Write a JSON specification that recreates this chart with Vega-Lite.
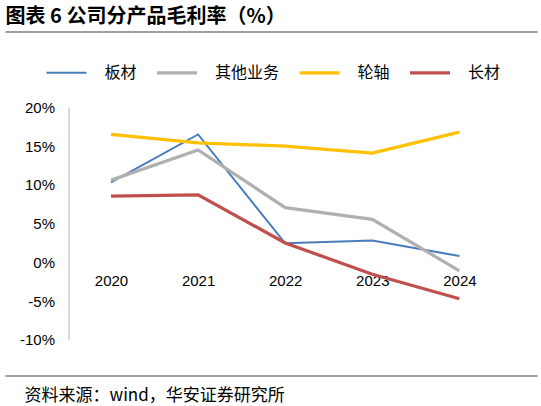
{
  "$schema": "https://vega.github.io/schema/vega-lite/v6.json",
  "description": "图表 6 公司分产品毛利率",
  "autosize": {"type": "none"},
  "padding": {"left": 5, "top": 107.3, "right": 4, "bottom": 66.2},
  "width": 532,
  "height": 232.5,
  "background": "#ffffff",
  "config": {
    "view": {"stroke": null},
    "axis": {"labelFont": "Liberation Sans", "grid": false, "ticks": false}
  },
  "data": {
    "values": [
      {"product": "板材", "year": 2020, "margin": 10.3},
      {"product": "板材", "year": 2021, "margin": 16.5},
      {"product": "板材", "year": 2022, "margin": 2.45},
      {"product": "板材", "year": 2023, "margin": 2.8},
      {"product": "板材", "year": 2024, "margin": 0.8},
      {"product": "其他业务", "year": 2020, "margin": 10.6},
      {"product": "其他业务", "year": 2021, "margin": 14.5},
      {"product": "其他业务", "year": 2022, "margin": 7.05},
      {"product": "其他业务", "year": 2023, "margin": 5.55},
      {"product": "其他业务", "year": 2024, "margin": -1.1},
      {"product": "轮轴", "year": 2020, "margin": 16.5},
      {"product": "轮轴", "year": 2021, "margin": 15.4},
      {"product": "轮轴", "year": 2022, "margin": 15.0},
      {"product": "轮轴", "year": 2023, "margin": 14.1},
      {"product": "轮轴", "year": 2024, "margin": 16.8},
      {"product": "长材", "year": 2020, "margin": 8.55},
      {"product": "长材", "year": 2021, "margin": 8.7},
      {"product": "长材", "year": 2022, "margin": 2.5},
      {"product": "长材", "year": 2023, "margin": -1.55},
      {"product": "长材", "year": 2024, "margin": -4.7}
    ]
  },
  "encoding": {
    "y": {
      "field": "margin",
      "type": "quantitative",
      "scale": {"domain": [-10, 20], "nice": false, "zero": false},
      "axis": {
        "title": null,
        "orient": "left",
        "offset": -63.5,
        "values": [-10, -5, 0, 5, 10, 15, 20],
        "labelExpr": "datum.value + '%'",
        "labelFontSize": 15,
        "labelColor": "#000000",
        "labelPadding": 14,
        "domainColor": "#b3b3b3",
        "domainWidth": 1
      }
    },
    "color": {
      "field": "product",
      "type": "nominal",
      "scale": {
        "domain": ["板材", "其他业务", "轮轴", "长材"],
        "range": ["#4a7ebb", "#b0b0b0", "#ffc000", "#c0504d"]
      },
      "legend": {
        "orient": "none",
        "legendX": 53.5,
        "legendY": -42.5,
        "direction": "horizontal",
        "title": null,
        "padding": 0,
        "symbolType": "stroke",
        "symbolSize": 1600,
        "symbolStrokeWidth": 3.25,
        "labelOffset": 30,
        "columnPadding": 12.5,
        "labelFont": "Noto Sans CJK SC",
        "labelFontSize": 16,
        "labelColor": "#000000",
        "encode": {
          "symbols": {
            "update": {"strokeWidth": {"signal": "datum.value === '板材' ? 2 : 3.25"}}
          }
        }
      }
    }
  },
  "layer": [
    {
      "data": {"values": [{}]},
      "mark": {"type": "rule", "strokeWidth": 1},
      "encoding": {
        "x": {
          "datum": 2019.5,
          "type": "quantitative",
          "axis": {
            "orient": "bottom",
            "offset": -308.3,
            "labels": false,
            "domain": true,
            "domainColor": "#7f7f7f",
            "domainWidth": 1.5,
            "title": "图表 6 公司分产品毛利率（%）",
            "titleFont": "Noto Sans CJK SC",
            "titleFontSize": 20,
            "titleFontWeight": "bold",
            "titleColor": "#000000",
            "titleAlign": "left",
            "titleBaseline": "middle",
            "titleX": 0,
            "titleY": -15
          }
        },
        "x2": {"datum": 2024.5},
        "y": {"datum": 0},
        "color": {"value": "#b3b3b3"}
      }
    },
    {
      "transform": [{"filter": "datum.product === '板材'"}],
      "mark": {"type": "line", "strokeWidth": 2},
      "encoding": {
        "x": {
          "field": "year",
          "type": "quantitative",
          "scale": {"domain": [2018.783, 2024.891], "nice": false, "zero": false},
          "axis": {
            "orient": "bottom",
            "offset": -77.5,
            "title": null,
            "domain": false,
            "values": [2020, 2021, 2022, 2023, 2024],
            "format": "d",
            "labelFontSize": 15,
            "labelColor": "#000000",
            "labelPadding": 11,
            "labelFlush": false,
            "labelOverlap": false
          }
        }
      }
    },
    {
      "transform": [{"filter": "datum.product !== '板材'"}],
      "mark": {"type": "line", "strokeWidth": 3.25},
      "encoding": {
        "x": {
          "field": "year",
          "type": "quantitative",
          "axis": {
            "orient": "bottom",
            "offset": 35.6,
            "labels": false,
            "domain": true,
            "domainColor": "#7f7f7f",
            "domainWidth": 1.5,
            "title": "资料来源：wind，华安证券研究所",
            "titleFont": "Noto Sans CJK SC",
            "titleFontSize": 17,
            "titleFontWeight": "normal",
            "titleColor": "#000000",
            "titleAlign": "left",
            "titleBaseline": "middle",
            "titleX": 19,
            "titleY": 20
          }
        }
      }
    }
  ],
  "resolve": {"axis": {"x": "independent"}}
}
